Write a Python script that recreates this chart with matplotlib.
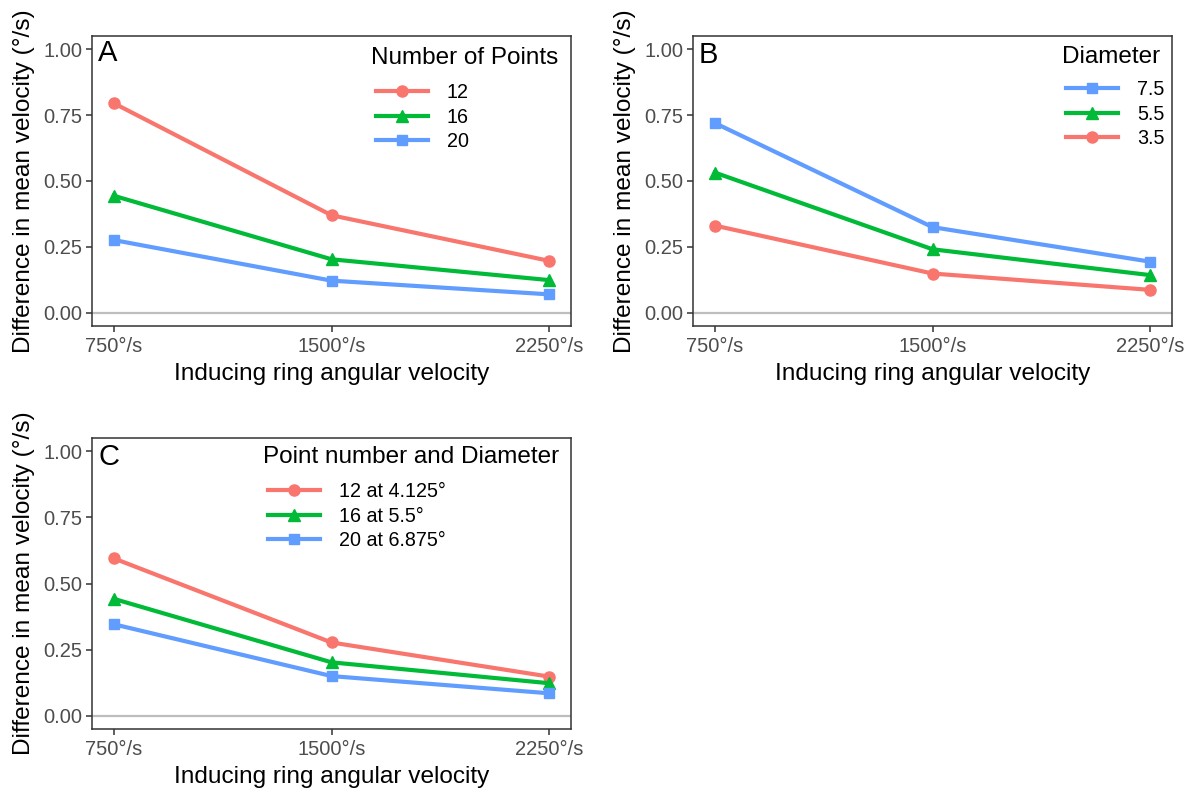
"""
plot.py  —  Difference in mean velocity vs inducing ring angular velocity (panels A, B, C).
"""

import matplotlib as mpl
mpl.use('Agg')
import matplotlib.pyplot as plt

# --- Data ---
SPEEDS      = [750, 1500, 2250]
SPEED_TICKS = ['750°/s', '1500°/s', '2250°/s']

# Panel A: number of points
A_LABELS = ['12', '16', '20']
A_12 = [0.795, 0.370, 0.197]
A_16 = [0.444, 0.203, 0.124]
A_20 = [0.276, 0.122, 0.070]

# Panel B: diameter
B_LABELS = ['7.5', '5.5', '3.5']
B_75 = [0.720, 0.325, 0.194]
B_55 = [0.532, 0.241, 0.143]
B_35 = [0.331, 0.149, 0.087]

# Panel C: point number and diameter
C_LABELS = ['12 at 4.125°', '16 at 5.5°', '20 at 6.875°']
C_12 = [0.595, 0.277, 0.148]
C_16 = [0.442, 0.202, 0.123]
C_20 = [0.346, 0.150, 0.085]

# --- Style ---
RED   = '#F8766D'
GREEN = '#00BA38'
BLUE  = '#619CFF'
DARK  = '#333333'
TICKC = '#4D4D4D'

plt.rcParams['font.family'] = ['Liberation Sans', 'DejaVu Sans']

W, H = 1191, 789


def fx(px):
    return px / W


def fy(py):
    return 1 - py / H


def draw_panel(fig, ax, tag, tag_xy, title, title_xy, leg_xy, series):
    ax.axhline(0, color='#BEBEBE', lw=1.6, zorder=1)
    for vals, color, marker, ms, label in series:
        ax.plot(SPEEDS, vals, color=color, lw=3, marker=marker, ms=ms,
                label=label, zorder=3)

    ax.set_xlim(675, 2325)
    ax.set_ylim(-0.05, 1.05)
    ax.set_xticks(SPEEDS)
    ax.set_xticklabels(SPEED_TICKS)
    ax.set_yticks([0, 0.25, 0.5, 0.75, 1.0])
    ax.set_yticklabels(['0.00', '0.25', '0.50', '0.75', '1.00'])
    ax.tick_params(length=4, width=1.1, color=DARK, labelcolor=TICKC,
                   labelsize=14.5, pad=3)
    ax.tick_params(axis='x', pad=4)
    for sp in ax.spines.values():
        sp.set_color(DARK)
        sp.set_linewidth(1.1)

    ax.set_xlabel('Inducing ring angular velocity', fontsize=17.6, labelpad=5)
    ax.set_ylabel('Difference in mean velocity (°/s)', fontsize=17.6, labelpad=6)

    # panel tag and legend title, placed in pixel terms
    fig.text(fx(tag_xy[0]), fy(tag_xy[1]), tag, fontsize=21,
             ha='left', va='baseline')
    fig.text(fx(title_xy[0]), fy(title_xy[1]), title, fontsize=17.5,
             ha='left', va='baseline')

    ax.legend(loc='upper left', bbox_to_anchor=(fx(leg_xy[0]), fy(leg_xy[1])),
              bbox_transform=fig.transFigure, frameon=False, fontsize=14.2,
              handlelength=2.65, handletextpad=0.95, labelspacing=0.28,
              borderaxespad=0, borderpad=0)


fig = plt.figure(figsize=(W / 100, H / 100), dpi=100)

ax_a = fig.add_axes([fx(92), fy(326), 479 / W, 290 / H])
ax_b = fig.add_axes([fx(693), fy(326), 479 / W, 290 / H])
ax_c = fig.add_axes([fx(92), fy(729), 479 / W, 291 / H])

draw_panel(fig, ax_a, 'A', (98, 61), 'Number of Points', (371, 64), (376, 83), [
    (A_12, RED, 'o', 8, A_LABELS[0]),
    (A_16, GREEN, '^', 8.5, A_LABELS[1]),
    (A_20, BLUE, 's', 7.5, A_LABELS[2]),
])
draw_panel(fig, ax_b, 'B', (699, 63), 'Diameter', (1062, 63), (1066, 80), [
    (B_75, BLUE, 's', 7.5, B_LABELS[0]),
    (B_55, GREEN, '^', 8.5, B_LABELS[1]),
    (B_35, RED, 'o', 8, B_LABELS[2]),
])
draw_panel(fig, ax_c, 'C', (99, 465), 'Point number and Diameter', (263, 463), (268, 482), [
    (C_12, RED, 'o', 8, C_LABELS[0]),
    (C_16, GREEN, '^', 8.5, C_LABELS[1]),
    (C_20, BLUE, 's', 7.5, C_LABELS[2]),
])

fig.savefig('out.png', dpi=100)
